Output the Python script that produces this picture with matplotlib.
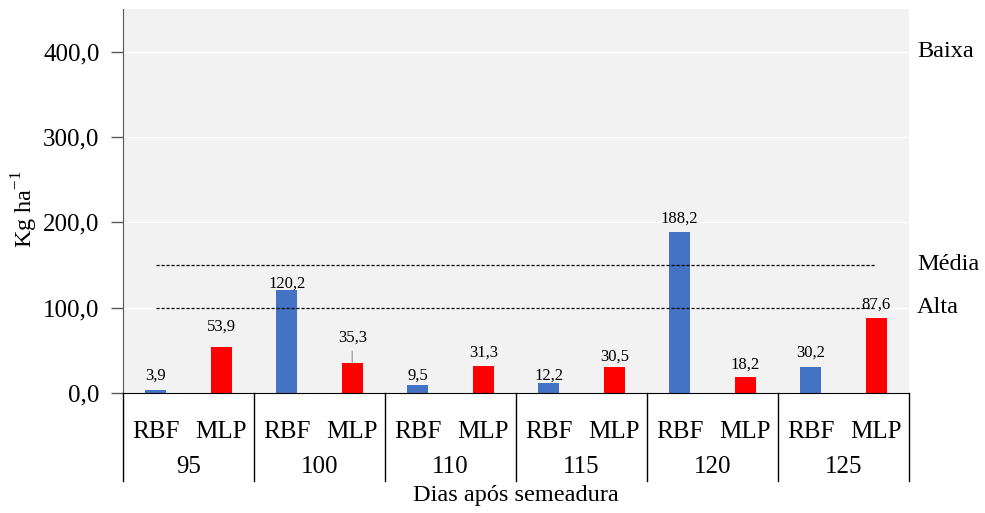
import numpy as np
import matplotlib
matplotlib.use("Agg")
import matplotlib.pyplot as plt
import matplotlib.transforms as mtransforms

plt.rcParams['font.family'] = ['Liberation Serif', 'DejaVu Serif']
plt.rcParams['mathtext.fontset'] = 'custom'
plt.rcParams['mathtext.rm'] = 'Liberation Serif'

# data
dias = ['95', '100', '110', '115', '120', '125']
modelos = ['RBF', 'MLP']
rbf = [3.9, 120.2, 9.5, 12.2, 188.2, 30.2]
mlp = [53.9, 35.3, 31.3, 30.5, 18.2, 87.6]
limites = [400, 150, 100]
classes = ['Baixa', 'Média', 'Alta']

# label gaps above bar (pixels), as placed in the original
gap_px = [10, 16, 3, 21, 5, 10, 3, 6, 10, 9, 11, 10]

vals = []
cores = []
for r, m in zip(rbf, mlp):
    vals += [r, m]
    cores += ['#4472C4', '#FF0000']
x = np.arange(len(vals))

fig = plt.figure(figsize=(9.85, 5.13), dpi=100)
ax = fig.add_axes([0.1249, 0.2339, 0.7979, 0.7486])
ax.set_facecolor('#f2f2f2')

ax.bar(x, vals, width=0.32, color=cores, zorder=3)
ax.set_xlim(-0.5, len(vals) - 0.5)
ax.set_ylim(0, 450)
ax.set_yticks([0, 100, 200, 300, 400])
ax.yaxis.set_major_formatter(matplotlib.ticker.FuncFormatter(lambda v, p: ('%.1f' % v).replace('.', ',')))
ax.tick_params(axis='y', labelsize=18, length=9, width=1, color='#595959', pad=8)
ax.set_xticks([])
ax.grid(axis='y', color='white', linewidth=1, zorder=0)
for s in ['top', 'right']:
    ax.spines[s].set_visible(False)
ax.spines['left'].set_color('#595959')
ax.spines['bottom'].set_color('black')
ax.spines['bottom'].set_zorder(4)

# reference lines
for y in limites[1:]:
    ax.hlines(y, 0, len(vals) - 1, colors='black', linestyles=(0, (2.5, 1.5)), linewidth=0.9, zorder=4)

# class labels on the right
tr = mtransforms.blended_transform_factory(ax.transAxes, ax.transData)
for y, c in zip(limites, classes):
    ax.text(1.01, y, c, transform=tr, fontsize=17.5, va='center', ha='left')

# data labels
for i, v in enumerate(vals):
    txt = ('%.1f' % v).replace('.', ',')
    if i == 3:
        ax.annotate(txt, xy=(x[i], v), xytext=(0, gap_px[i] * 0.72),
                    textcoords='offset points', ha='center', va='baseline', fontsize=12,
                    arrowprops=dict(arrowstyle='-', color='#a6a6a6', lw=1, shrinkA=2, shrinkB=0))
    else:
        ax.annotate(txt, xy=(x[i], v), xytext=(0, gap_px[i] * 0.72),
                    textcoords='offset points', ha='center', va='baseline', fontsize=12)

# two-level x axis
trx = mtransforms.blended_transform_factory(ax.transData, ax.transAxes)
for b in np.arange(-0.5, len(vals), 2):
    ax.plot([b, b], [0, -0.23], transform=trx, color='black', lw=1, clip_on=False)
for i, m in enumerate(x):
    ax.text(m, -0.102, modelos[i % 2], transform=trx, ha='center', va='center', fontsize=18)
for g, d in enumerate(dias):
    ax.text(2 * g + 0.5, -0.193, d, transform=trx, ha='center', va='center', fontsize=18)
ax.text(0.5, -0.266, 'Dias após semeadura', transform=ax.transAxes, ha='center', va='center', fontsize=17.5)

ax.text(-0.125, 0.48, 'Kg ha$^{\\mathregular{-1}}$', transform=ax.transAxes, rotation=90,
        ha='center', va='center', fontsize=17.5)

fig.savefig('out.png', dpi=100)
